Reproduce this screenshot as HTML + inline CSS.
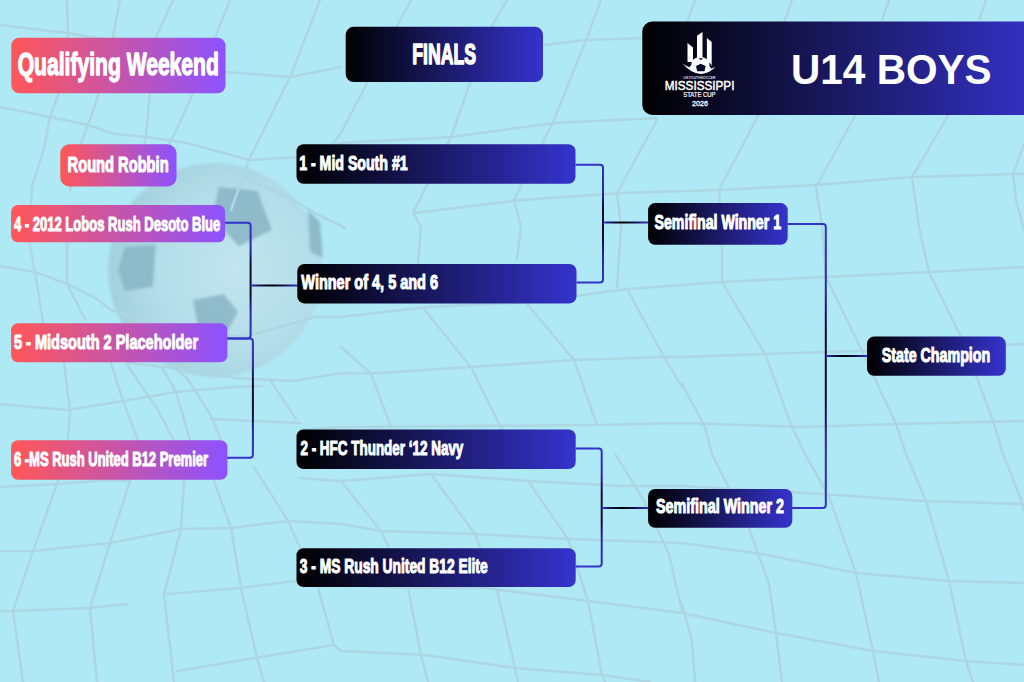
<!DOCTYPE html><html><head><meta charset="utf-8"><style>html,body{margin:0;padding:0;overflow:hidden;background:#b0e9f6}svg{display:block}</style></head><body>
<svg width="1024" height="682" viewBox="0 0 1024 682">
<defs>
<linearGradient id="pk" x1="0" x2="1" y1="0" y2="0"><stop offset="0" stop-color="#ff5757"/><stop offset="1" stop-color="#8c52ff"/></linearGradient>
<linearGradient id="dk" x1="0" x2="1" y1="0" y2="0"><stop offset="0" stop-color="#000000"/><stop offset="1" stop-color="#3533cd"/></linearGradient>
<linearGradient id="dkh" gradientUnits="userSpaceOnUse" x1="642" x2="1024" y1="0" y2="0"><stop offset="0" stop-color="#000000"/><stop offset="1" stop-color="#3230c0"/></linearGradient>

<filter id="bl" x="-5%" y="-5%" width="110%" height="110%"><feGaussianBlur stdDeviation="0.6"/></filter><filter id="bl2" x="-10%" y="-10%" width="120%" height="120%"><feGaussianBlur stdDeviation="1.5"/></filter></defs>
<rect width="1024" height="682" fill="#b0e9f6"/>
<defs><radialGradient id="bg1" cx="0.6" cy="0.5" r="0.6"><stop offset="0" stop-color="#c2e5ee"/><stop offset="0.6" stop-color="#b4dde8"/><stop offset="1" stop-color="#a2cfdc"/></radialGradient></defs>
<g filter="url(#bl2)">
<circle cx="215" cy="270" r="107" fill="url(#bg1)" opacity="0.95"/>
<g fill="#8ab6c6" opacity="0.9">
<path d="M218.5 186.7 L257.5 190.8 L271.9 229.8 L239 246.2 L212.3 217.5 Z"/>
<path d="M125 246.7 L155.7 244.4 L153 286.6 L125 291.3 L118 270 Z"/>
<path d="M193 300 L224 294 L238 312 L228 330 L198 328 Z"/>
<path d="M308 210 L320 222 L323 258 L310 252 Z"/>
</g></g>
<g fill="none" stroke="#acd7e2" stroke-width="2.6" stroke-linejoin="round" stroke-linecap="round" filter="url(#bl)">
<path d="M0 25 L67 33 L110 40"/>
<path d="M226 72 L290 77 L341 67"/>
<path d="M544 45 L586 40 L645 38"/>
<path d="M0 107 L50 117 L88 125 L114 134 L146 137 L187 143 L249 160 L300 157 L341 143 L451 137 L554 123 L657 118"/>
<path d="M414 213 L521 200 L621 193 L719 190 L816 185 L912 177 L1016 174 L1024 174"/>
<path d="M0 266 L35 272 L67 284 L97 299 L111 310 L170 330 L244 337 L315 317 L341 317"/>
<path d="M245 178 L290 198 L315 213 L345 228"/>
<path d="M67 240 L67 284 L85 319"/>
<path d="M126 363 L158 410 L176 445"/>
<path d="M164 360 L187 378 L211 416 L223 445"/>
<path d="M211 419 L300 423"/>
<path d="M270 380 L296 419"/>
<path d="M341 317 L428 307 L531 302 L627 289 L682 285 L722 282 L826 277 L929 272 L1024 267"/>
<path d="M129 363 L182 369 L235 378 L293 381 L341 373 L371 373.5 L471 367 L574 360 L664 357 L682 357 L765 354 L862 351 L1024 344"/>
<path d="M0 404 L67 410 L123 401 L176 392 L235 387 L262 386"/>
<path d="M300 430 L341 427 L597 425 L682 423 L802 427 L896 424 L1024 421"/>
<path d="M0 487 L57 484 L97 481 L130 481"/>
<path d="M300 478 L341 481 L431 474 L528 481 L622 486 L682 486 L822 494 L923 501 L1024 504"/>
<path d="M0 551 L33 551 L110 543 L181 529 L231 528 L288 521 L341 524 L381 531 L475 534 L568 539 L682 543 L762 554 L856 573 L949 581 L1024 583"/>
<path d="M0 611 L13 611 L90 608 L127 604"/>
<path d="M167 594 L241 588 L294 581 L341 585 L404 588 L485 588 L588 601 L682 613 L776 633 L873 651 L966 661 L1024 665"/>
<path d="M177 671 L254 658 L334 645 L341 651 L425 655 L515 668 L602 675 L650 682"/>
<path d="M67 0 L68 33 L60 90 L50 117 L44 148 L32 187 L29 240 L35 272 L44 328 L64 363 L70 410 L67 454 L57 484 L33 551 L13 611 L23 682"/>
<path d="M120 0 L113 37 L100 90 L88 125 L79 149 L70 190"/>
<path d="M111 363 L123 401 L138 440 L130 481 L110 543 L90 608 L97 682"/>
<path d="M173 0 L156 37 L150 90 L146 137 L140 160"/>
<path d="M161 366 L176 392 L190 440 L184 481 L181 529 L164 594 L174 682"/>
<path d="M230 0 L193 93 L176 131 L164 154"/>
<path d="M214 481 L231 528 L241 588 L257 658 L264 682"/>
<path d="M320 0 L290 77 L249 160 L231 210"/>
<path d="M254 467 L288 521 L318 588 L334 645 L341 651"/>
<path d="M411 0 L388 43 L341 133 L320 160"/>
<path d="M507 0 L488 33 L451 137 L413 213 L421 227 L418 264"/>
<path d="M601 0 L586 40 L554 120 L514 200 L521 227 L517 260"/>
<path d="M657 120 L617 193 L621 227 L617 287"/>
<path d="M424 309 L471 367 L497 420 L504 433"/>
<path d="M527 304 L574 360 L597 425"/>
<path d="M627 289 L664 357 L682 387"/>
<path d="M341 347 L371 373.5 L391 427"/>
<path d="M341 481 L381 531 L408 588 L421 655 L428 682"/>
<path d="M431 474 L475 534 L498 594 L515 668 L518 682"/>
<path d="M528 481 L568 539 L588 601 L602 675 L605 682"/>
<path d="M615 454 L642 497 L669 554 L682 611"/>
<path d="M792 0 L785 20"/>
<path d="M889 0 L882 20"/>
<path d="M986 0 L979 20"/>
<path d="M695 0 L688 20"/>
<path d="M759 114 L719 190 L722 247 L722 282 L765 354 L792 427 L805 454 L829 497 L856 573 L873 651 L879 682"/>
<path d="M856 114 L816 187 L822 227 L826 277 L862 351 L896 424 L906 454 L926 501 L949 581 L966 661 L973 682"/>
<path d="M949 114 L912 177 L919 227 L929 272 L963 341 L993 421 L1003 454 L1020 497 L1024 510"/>
<path d="M682 384 L705 427 L712 454 L749 528 L769 584 L776 633 L782 682"/>
<path d="M1024 144 L1013 174 L1016 200 L1024 230"/>
<path d="M682 604 L692 641 L695 682"/>
</g>
<linearGradient id="cg0" gradientUnits="userSpaceOnUse" x1="0" x2="0" y1="222.8" y2="338.5"><stop offset="0" stop-color="#3432c8"/><stop offset="0.22" stop-color="#2a28a8"/><stop offset="0.38" stop-color="#0a0a32"/><stop offset="0.62" stop-color="#0a0a32"/><stop offset="0.78" stop-color="#2a28a8"/><stop offset="1" stop-color="#3432c8"/></linearGradient>
<path d="M225.0 222.8 H247.6 Q250.6 222.8 250.6 225.8 V335.5 Q250.6 338.5 247.6 338.5 H227.0" stroke="url(#cg0)" stroke-width="2" fill="none"/>
<linearGradient id="cg1" gradientUnits="userSpaceOnUse" x1="0" x2="0" y1="338.5" y2="457.8"><stop offset="0" stop-color="#3432c8"/><stop offset="0.22" stop-color="#2a28a8"/><stop offset="0.38" stop-color="#0a0a32"/><stop offset="0.62" stop-color="#0a0a32"/><stop offset="0.78" stop-color="#2a28a8"/><stop offset="1" stop-color="#3432c8"/></linearGradient>
<path d="M227.0 338.5 H249.9 Q252.9 338.5 252.9 341.5 V454.8 Q252.9 457.8 249.9 457.8 H227.0" stroke="url(#cg1)" stroke-width="2" fill="none"/>
<linearGradient id="cg2" gradientUnits="userSpaceOnUse" x1="0" x2="0" y1="164.8" y2="282.5"><stop offset="0" stop-color="#3432c8"/><stop offset="0.22" stop-color="#2a28a8"/><stop offset="0.38" stop-color="#0a0a32"/><stop offset="0.62" stop-color="#0a0a32"/><stop offset="0.78" stop-color="#2a28a8"/><stop offset="1" stop-color="#3432c8"/></linearGradient>
<path d="M575.5 164.8 H600.0 Q603.0 164.8 603.0 167.8 V279.5 Q603.0 282.5 600.0 282.5 H576.5" stroke="url(#cg2)" stroke-width="2" fill="none"/>
<linearGradient id="cg3" gradientUnits="userSpaceOnUse" x1="0" x2="0" y1="448.5" y2="566.6"><stop offset="0" stop-color="#3432c8"/><stop offset="0.22" stop-color="#2a28a8"/><stop offset="0.38" stop-color="#0a0a32"/><stop offset="0.62" stop-color="#0a0a32"/><stop offset="0.78" stop-color="#2a28a8"/><stop offset="1" stop-color="#3432c8"/></linearGradient>
<path d="M575.5 448.5 H598.7 Q601.7 448.5 601.7 451.5 V563.6 Q601.7 566.6 598.7 566.6 H575.5" stroke="url(#cg3)" stroke-width="2" fill="none"/>
<linearGradient id="cg4" gradientUnits="userSpaceOnUse" x1="0" x2="0" y1="224.0" y2="508.0"><stop offset="0" stop-color="#3432c8"/><stop offset="0.22" stop-color="#2a28a8"/><stop offset="0.38" stop-color="#0a0a32"/><stop offset="0.62" stop-color="#0a0a32"/><stop offset="0.78" stop-color="#2a28a8"/><stop offset="1" stop-color="#3432c8"/></linearGradient>
<path d="M787.5 224.0 H822.8 Q825.8 224.0 825.8 227.0 V505.0 Q825.8 508.0 822.8 508.0 H792.0" stroke="url(#cg4)" stroke-width="2" fill="none"/>
<linearGradient id="fg0" gradientUnits="userSpaceOnUse" x1="250.6" x2="297.5" y1="0" y2="0"><stop offset="0" stop-color="#3432c8"/><stop offset="0.2" stop-color="#10104a"/><stop offset="0.45" stop-color="#000"/><stop offset="0.7" stop-color="#111050"/><stop offset="1" stop-color="#3432c8"/></linearGradient>
<path d="M250.6 285.5 H297.5" stroke="url(#fg0)" stroke-width="2" fill="none"/>
<linearGradient id="fg1" gradientUnits="userSpaceOnUse" x1="603.0" x2="648.5" y1="0" y2="0"><stop offset="0" stop-color="#3432c8"/><stop offset="0.2" stop-color="#10104a"/><stop offset="0.45" stop-color="#000"/><stop offset="0.7" stop-color="#111050"/><stop offset="1" stop-color="#3432c8"/></linearGradient>
<path d="M603.0 222.4 H648.5" stroke="url(#fg1)" stroke-width="2" fill="none"/>
<linearGradient id="fg2" gradientUnits="userSpaceOnUse" x1="601.7" x2="648.5" y1="0" y2="0"><stop offset="0" stop-color="#3432c8"/><stop offset="0.2" stop-color="#10104a"/><stop offset="0.45" stop-color="#000"/><stop offset="0.7" stop-color="#111050"/><stop offset="1" stop-color="#3432c8"/></linearGradient>
<path d="M601.7 508.0 H648.5" stroke="url(#fg2)" stroke-width="2" fill="none"/>
<linearGradient id="fg3" gradientUnits="userSpaceOnUse" x1="825.8" x2="867.5" y1="0" y2="0"><stop offset="0" stop-color="#3432c8"/><stop offset="0.2" stop-color="#10104a"/><stop offset="0.45" stop-color="#000"/><stop offset="0.7" stop-color="#111050"/><stop offset="1" stop-color="#3432c8"/></linearGradient>
<path d="M825.8 356.0 H867.5" stroke="url(#fg3)" stroke-width="2" fill="none"/>
<rect x="11.3" y="37.7" width="214.2" height="55.6" rx="8" fill="url(#pk)"/>
<rect x="60.3" y="144.3" width="116.2" height="42.2" rx="9" fill="url(#pk)"/>
<rect x="345.7" y="26.8" width="197.3" height="55.3" rx="8" fill="url(#dk)"/>
<rect x="642.3" y="21.5" width="420.0" height="93.4" rx="10" fill="url(#dkh)"/>
<rect x="11.1" y="204.9" width="214.0" height="37.3" rx="7" fill="url(#pk)"/>
<rect x="11.1" y="323.3" width="216.3" height="38.9" rx="7" fill="url(#pk)"/>
<rect x="11.1" y="440.2" width="216.3" height="39.5" rx="7" fill="url(#pk)"/>
<rect x="296.5" y="144.3" width="279.0" height="39.4" rx="7" fill="url(#dk)"/>
<rect x="297.3" y="263.9" width="279.2" height="39.5" rx="7" fill="url(#dk)"/>
<rect x="296.5" y="429.4" width="279.2" height="39.6" rx="7" fill="url(#dk)"/>
<rect x="296.5" y="548.3" width="279.2" height="38.7" rx="7" fill="url(#dk)"/>
<rect x="648.1" y="203.1" width="139.6" height="41.6" rx="7" fill="url(#dk)"/>
<rect x="648.1" y="488.9" width="144.2" height="38.8" rx="7" fill="url(#dk)"/>
<rect x="867.0" y="336.6" width="138.8" height="39.2" rx="7" fill="url(#dk)"/>
<g font-family="Liberation Sans, sans-serif" font-weight="bold" fill="#fff">
<text x="17.68" y="75.03" font-size="31.19" textLength="201.15" lengthAdjust="spacingAndGlyphs" stroke="#fff" stroke-width="1.35" stroke-linejoin="round">Qualifying Weekend</text>
<text x="67.58" y="172.42" font-size="22.29" textLength="101.05" lengthAdjust="spacingAndGlyphs" stroke="#fff" stroke-width="1.15" stroke-linejoin="round">Round Robbin</text>
<text x="412.35" y="64.15" font-size="30.17" textLength="63.70" lengthAdjust="spacingAndGlyphs" stroke="#fff" stroke-width="1.60" stroke-linejoin="round">FINALS</text>
<text x="13.95" y="230.65" font-size="20.67" textLength="206.30" lengthAdjust="spacingAndGlyphs" stroke="#fff" stroke-width="1.10" stroke-linejoin="round">4 - 2012 Lobos Rush Desoto Blue</text>
<text x="13.95" y="348.55" font-size="20.67" textLength="184.10" lengthAdjust="spacingAndGlyphs" stroke="#fff" stroke-width="1.10" stroke-linejoin="round">5 - Midsouth 2 Placeholder</text>
<text x="13.95" y="466.05" font-size="20.67" textLength="194.10" lengthAdjust="spacingAndGlyphs" stroke="#fff" stroke-width="1.10" stroke-linejoin="round">6 -MS Rush United B12 Premier</text>
<text x="299.15" y="169.55" font-size="20.67" textLength="108.50" lengthAdjust="spacingAndGlyphs" stroke="#fff" stroke-width="1.10" stroke-linejoin="round">1 - Mid South #1</text>
<text x="301.35" y="289.25" font-size="20.67" textLength="136.70" lengthAdjust="spacingAndGlyphs" stroke="#fff" stroke-width="1.10" stroke-linejoin="round">Winner of 4, 5 and 6</text>
<text x="300.45" y="454.75" font-size="20.67" textLength="162.90" lengthAdjust="spacingAndGlyphs" stroke="#fff" stroke-width="1.10" stroke-linejoin="round">2 - HFC Thunder ‘12 Navy</text>
<text x="299.75" y="573.05" font-size="20.67" textLength="187.90" lengthAdjust="spacingAndGlyphs" stroke="#fff" stroke-width="1.10" stroke-linejoin="round">3 - MS Rush United B12 Elite</text>
<text x="654.55" y="229.25" font-size="20.67" textLength="126.50" lengthAdjust="spacingAndGlyphs" stroke="#fff" stroke-width="1.10" stroke-linejoin="round">Semifinal Winner 1</text>
<text x="655.95" y="513.45" font-size="20.67" textLength="128.10" lengthAdjust="spacingAndGlyphs" stroke="#fff" stroke-width="1.10" stroke-linejoin="round">Semifinal Winner 2</text>
<text x="881.75" y="361.85" font-size="20.67" textLength="108.50" lengthAdjust="spacingAndGlyphs" stroke="#fff" stroke-width="1.10" stroke-linejoin="round">State Champion</text>
</g>
<text x="791" y="83.8" font-family="Liberation Sans, sans-serif" font-weight="bold" font-size="43.3" fill="#fff" textLength="200.6" lengthAdjust="spacingAndGlyphs">U14 BOYS</text>
<g fill="#fff">
<path d="M687.5 43 L693 47.4 L693 62 L687.5 62 Z"/>
<path d="M697 35.7 L702.5 32 L702.5 60 L697 60 Z"/>
<path d="M706.9 37.9 L711.7 41.9 L711.7 66 L706.9 66 Z"/>
<clipPath id="lcl"><path d="M682.5 63.5 Q 699 82 715.6 67 L716 50 L682 50 Z"/></clipPath>
<circle cx="700.3" cy="67.6" r="10.6" clip-path="url(#lcl)"/>
<path d="M682.5 63.5 Q 699 82 715.6 67 Q 699 75 682.5 63.5 Z"/>
<g fill="#0a0a2a">
<path d="M696 66 L700.8 63.8 L705.6 66 L704.6 71.2 L697.2 71.2 Z"/>
<path d="M698.5 58.2 L703 58.2 L700.8 60.3 Z"/>
<path d="M689.5 64.5 L692.3 61.6 L691 65.6 L689.2 67 Z"/>
<path d="M709.2 62.5 L711.4 64.8 L712 68.6 L709.6 66.4 Z"/>
</g>
<text x="683.6" y="79.4" font-size="3" textLength="32" lengthAdjust="spacingAndGlyphs" font-family="Liberation Sans, sans-serif" font-weight="bold" fill="#d8d8e8">USYOUTHSOCCER</text>
<text x="664.8" y="90.3" font-size="13.4" textLength="69.6" lengthAdjust="spacingAndGlyphs" font-family="Liberation Sans, sans-serif" stroke="#fff" stroke-width="0.5">MISSISSIPPI</text>
<text x="683.2" y="97.3" font-size="7.2" textLength="32.4" lengthAdjust="spacingAndGlyphs" font-family="Liberation Sans, sans-serif" stroke="#fff" stroke-width="0.2">STATE CUP</text>
<text x="692" y="105.5" font-size="7.8" textLength="16" lengthAdjust="spacingAndGlyphs" font-family="Liberation Sans, sans-serif" stroke="#fff" stroke-width="0.3">2026</text>
</g>
</svg></body></html>
